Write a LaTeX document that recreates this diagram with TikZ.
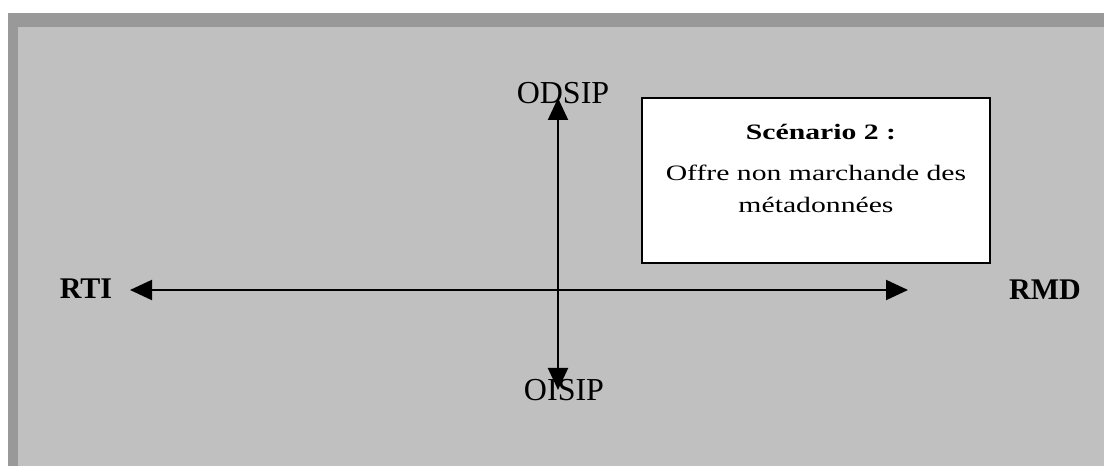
\documentclass[tikz,border=0pt]{standalone}
\usepackage{fontspec}
\setmainfont{Liberation Serif}
\usetikzlibrary{arrows.meta}
\definecolor{fond}{HTML}{C0C0C0}
\definecolor{bord}{HTML}{999999}
\tikzset{
  axe/.style={line width=2pt,{Triangle[length=22pt,width=20pt]}-{Triangle[length=22pt,width=20pt]}},
  pole/.style={font=\fontsize{30}{30}\selectfont\bfseries,inner sep=0pt},
  poleV/.style={font=\fontsize{32}{32}\selectfont,inner sep=0pt},
  texte/.style={font=\fontsize{22}{32}\selectfont,align=center,inner sep=0pt,xscale=1.35,transform shape}
}
\begin{document}
\begin{tikzpicture}[x=1pt,y=1pt]
\useasboundingbox (0,0) rectangle (1104,466);
% fond et bordure
\fill[fond] (8,0) rectangle (1104,453);
\fill[bord] (8,439) rectangle (1104,453);
\fill[bord] (8,0) rectangle (18,453);
% cadre du scenario
\node[draw,line width=2pt,fill=white,minimum width=348pt,minimum height=165pt] (scen) at (816,285.5) {};
\node[texte,font=\fontsize{22}{32}\selectfont\bfseries] (titre) at (821,334) {Scénario 2 :};
\node[texte] (offre) at (816,277) {Offre non marchande des\\métadonnées};
% axes
\node[pole] (rti) at (86,177) {RTI};
\node[pole] (rmd) at (1045,176) {RMD};
\node[poleV] (odsip) at (563,373) {ODSIP};
\node[poleV] (oisip) at (564,76) {OISIP};
\coordinate (gauche) at (130,176);
\coordinate (droite) at (908,176);
\coordinate (haut) at (558,368);
\coordinate (bas) at (558,76);
\draw[axe] (gauche) -- (droite);
\draw[axe] (bas) -- (haut);
\end{tikzpicture}
\end{document}
